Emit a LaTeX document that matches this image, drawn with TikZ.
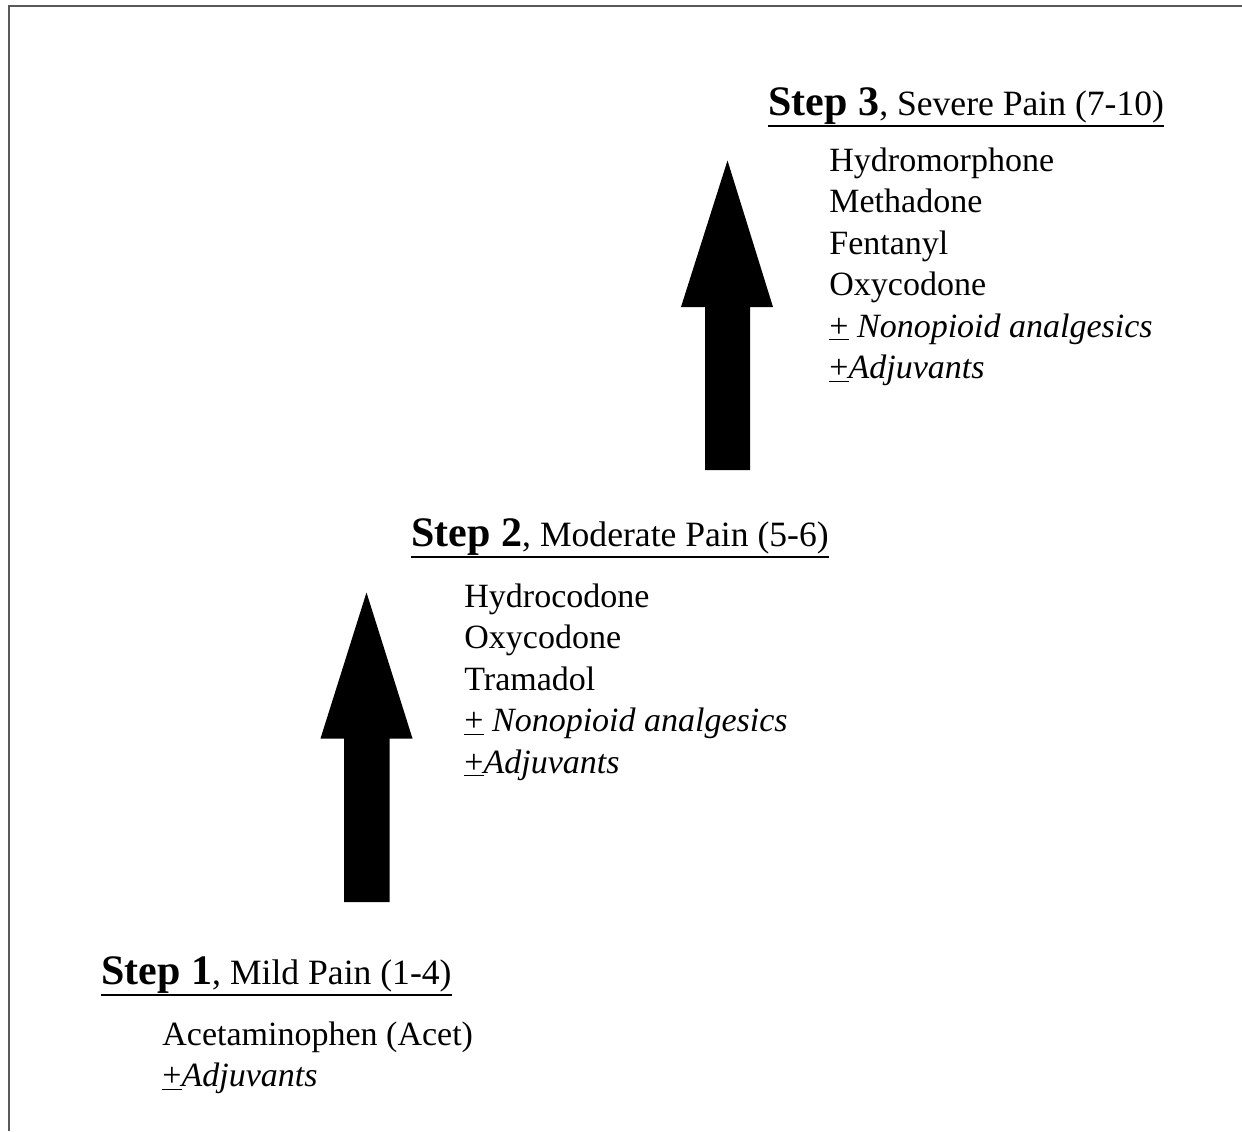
\documentclass[tikz,border=0pt]{standalone}
\usepackage{fontspec}
\setmainfont{Liberation Serif}
\newcommand{\pmu}{\underline{+}}
\begin{document}
\begin{tikzpicture}[x=0.5pt, y=-0.5pt,
    head/.style={anchor=base west, inner sep=0pt, font=\fontsize{17.8}{22}\selectfont},
    item/.style={anchor=base west, inner sep=0pt, font=\fontsize{17}{20}\selectfont},
    uline/.style={line width=0.8pt},
    bigarrow/.style={fill=black}]
    \useasboundingbox (0,0) rectangle (1242,1131);
    \draw[black!65, line width=1pt] (9,1131) -- (9,6) -- (1242,6);

    % Step headings
    \node[head] (h3) at (768,115) {{\fontsize{21}{25}\selectfont\bfseries Step 3}, Severe Pain (7-10)};
    \node[head] (h2) at (411,546) {{\fontsize{21}{25}\selectfont\bfseries Step 2}, Moderate Pain (5-6)};
    \node[head] (h1) at (101,984) {{\fontsize{21}{25}\selectfont\bfseries Step 1}, Mild Pain (1-4)};
    \draw[uline] ([yshift=-5.5pt]h3.base west) -- ([yshift=-5.5pt]h3.base east);
    \draw[uline] ([yshift=-5.5pt]h2.base west) -- ([yshift=-5.5pt]h2.base east);
    \draw[uline] ([yshift=-5.5pt]h1.base west) -- ([yshift=-5.5pt]h1.base east);

    % Drug lists
    \foreach \t [count=\i from 0] in {Hydromorphone, Methadone, Fentanyl, Oxycodone,
        {\pmu{} \textit{Nonopioid analgesics}}, {\pmu\textit{Adjuvants}}}
        \node[item] (s3-\i) at (829,171+41.5*\i) {\t};
    \foreach \t [count=\i from 0] in {Hydrocodone, Oxycodone, Tramadol,
        {\pmu{} \textit{Nonopioid analgesics}}, {\pmu\textit{Adjuvants}}}
        \node[item] (s2-\i) at (464,607+41.5*\i) {\t};
    \foreach \t [count=\i from 0] in {Acetaminophen (Acet), {\pmu\textit{Adjuvants}}}
        \node[item] (s1-\i) at (162,1045+41.5*\i) {\t};

    % Block arrows
    \fill[bigarrow] (705,470) -- (705,307) -- (681,307) -- (727.5,160.5)
        -- (773,307) -- (750,307) -- (750,470) -- cycle;
    \fill[bigarrow] (344,902) -- (344,738.5) -- (320.5,738.5) -- (366.5,592.5)
        -- (412.5,738.5) -- (389.5,738.5) -- (389.5,902) -- cycle;
\end{tikzpicture}
\end{document}
